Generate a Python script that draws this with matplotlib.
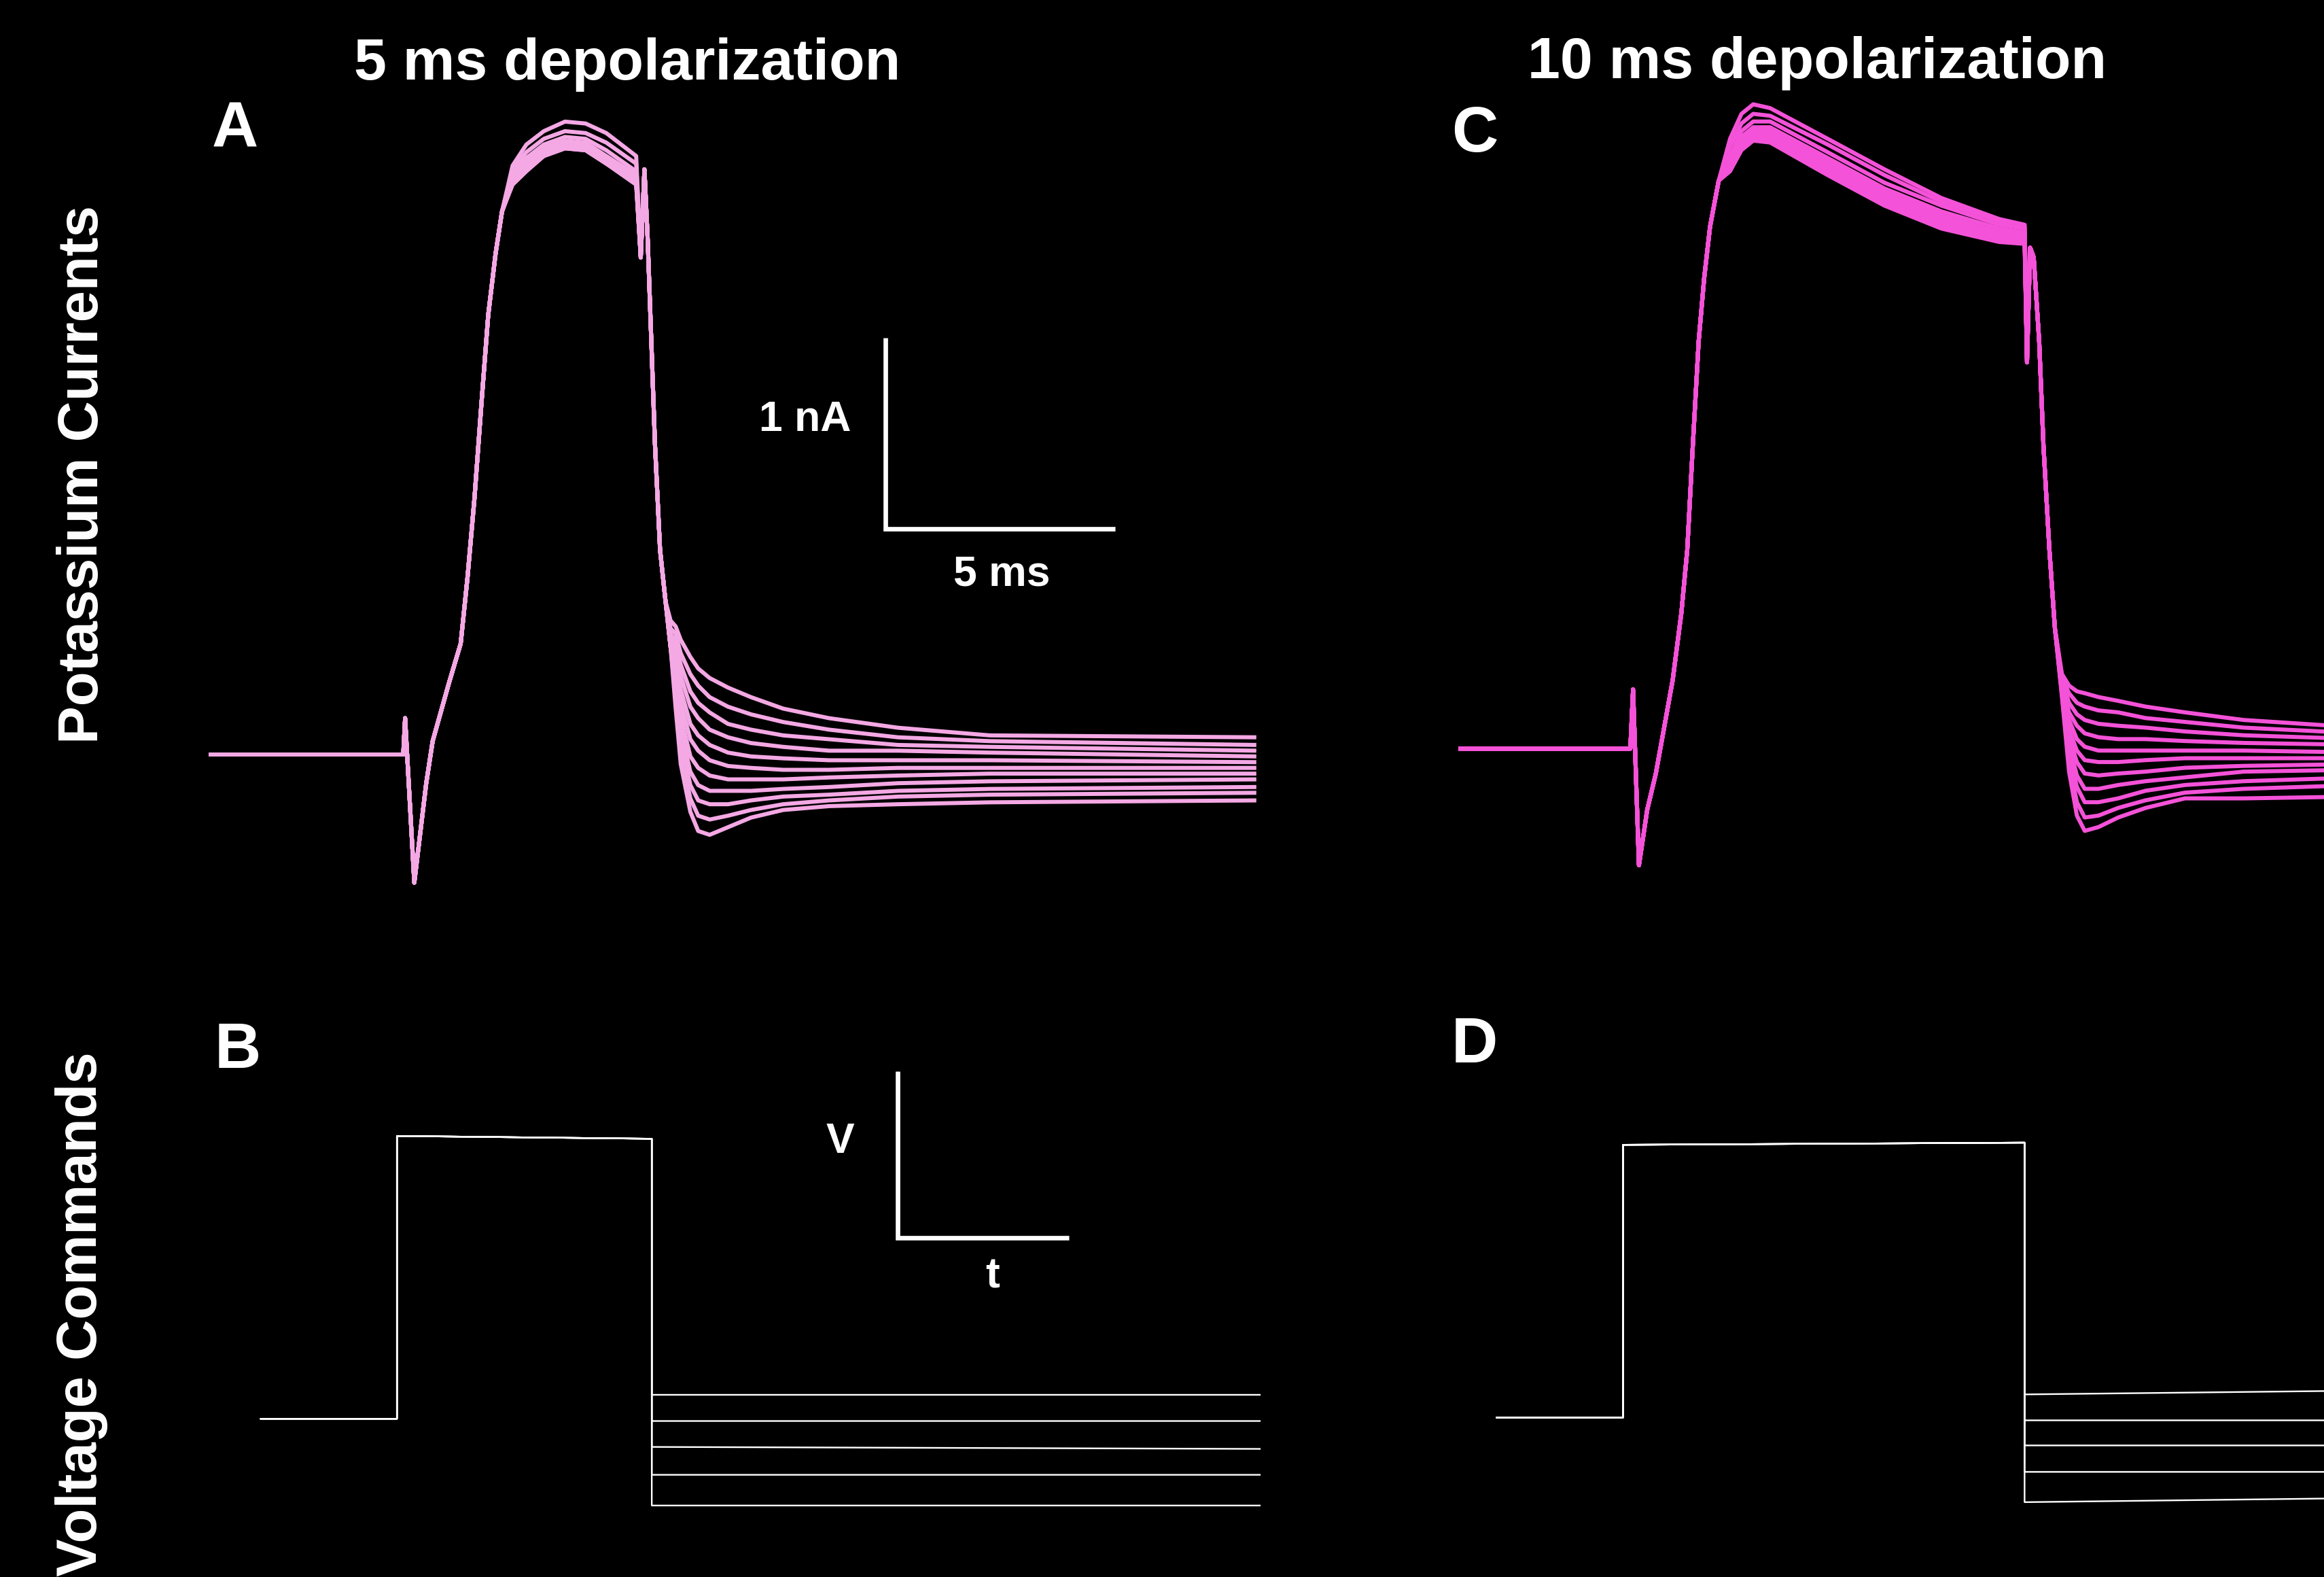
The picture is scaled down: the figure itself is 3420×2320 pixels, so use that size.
import matplotlib
matplotlib.use('Agg')
import matplotlib.pyplot as plt

# ---- panel A: 5 ms step, currents in nA, time in ms ----
A_PRE_T = [0.0, 4.23, 4.27, 4.47, 4.73, 4.87, 5.22, 5.48, 5.63, 5.78, 5.93, 6.08, 6.24, 6.38]
A_PRE_I = [0.0, 0.0, 0.19, -0.67, -0.15, 0.07, 0.37, 0.58, 0.93, 1.34, 1.83, 2.30, 2.62, 2.84]
A_PLAT_T = [6.61, 6.91, 7.29, 7.75, 8.2, 8.65, 9.30]
A_PLAT_I = [
    [3.08, 3.19, 3.26, 3.31, 3.30, 3.25, 3.13],
    [3.06, 3.15, 3.22, 3.26, 3.25, 3.20, 3.09],
    [3.04, 3.12, 3.19, 3.23, 3.22, 3.16, 3.05],
    [3.02, 3.10, 3.17, 3.21, 3.20, 3.13, 3.03],
    [3.01, 3.09, 3.16, 3.20, 3.19, 3.12, 3.02],
    [3.01, 3.08, 3.15, 3.19, 3.18, 3.11, 3.01],
    [3.00, 3.07, 3.15, 3.19, 3.18, 3.11, 3.00],
    [3.00, 3.07, 3.14, 3.18, 3.17, 3.10, 3.00],
    [2.99, 3.06, 3.14, 3.18, 3.17, 3.10, 2.99],
    [2.99, 3.06, 3.13, 3.17, 3.16, 3.09, 2.99],
    [2.98, 3.05, 3.13, 3.17, 3.16, 3.09, 2.98],
]
A_END_T = [9.40, 9.48, 9.55, 9.63, 9.71, 9.82, 9.94]
A_END_I = [2.60, 3.06, 2.70, 2.16, 1.62, 1.07, 0.80]
A_TAIL_T = [10.05, 10.16, 10.27, 10.48, 10.65, 10.9, 11.3, 11.8, 12.5, 13.5, 15.0, 17.0, 22.8]
A_TAIL_I = [
    [0.70, 0.67, 0.60, 0.51, 0.45, 0.40, 0.35, 0.30, 0.24, 0.19, 0.14, 0.10, 0.09],
    [0.66, 0.63, 0.53, 0.42, 0.36, 0.30, 0.25, 0.21, 0.17, 0.13, 0.09, 0.07, 0.05],
    [0.63, 0.59, 0.47, 0.33, 0.27, 0.22, 0.16, 0.13, 0.10, 0.08, 0.05, 0.04, 0.02],
    [0.60, 0.55, 0.41, 0.25, 0.19, 0.13, 0.09, 0.06, 0.04, 0.02, 0.02, 0.01, -0.01],
    [0.56, 0.51, 0.34, 0.16, 0.10, 0.05, 0.01, -0.01, -0.02, -0.03, -0.03, -0.03, -0.04],
    [0.56, 0.47, 0.27, 0.08, 0.02, -0.03, -0.06, -0.07, -0.08, -0.08, -0.07, -0.07, -0.07],
    [0.56, 0.43, 0.20, -0.01, -0.07, -0.11, -0.13, -0.13, -0.13, -0.12, -0.11, -0.10, -0.10],
    [0.56, 0.40, 0.13, -0.09, -0.16, -0.19, -0.19, -0.19, -0.18, -0.17, -0.15, -0.14, -0.13],
    [0.56, 0.35, 0.07, -0.16, -0.24, -0.26, -0.26, -0.24, -0.22, -0.21, -0.19, -0.18, -0.17],
    [0.56, 0.29, 0.01, -0.23, -0.32, -0.34, -0.32, -0.29, -0.26, -0.24, -0.22, -0.21, -0.20],
    [0.56, 0.24, -0.05, -0.30, -0.40, -0.42, -0.38, -0.33, -0.29, -0.27, -0.26, -0.25, -0.24],
]

# ---- panel C: 10 ms step ----
C_PRE_T = [0.0, 4.38, 4.45, 4.60, 4.81, 5.03, 5.25, 5.46, 5.68, 5.83, 5.97, 6.12, 6.26, 6.41, 6.63]
C_PRE_I = [0.0, 0.0, 0.31, -0.61, -0.32, -0.13, 0.12, 0.36, 0.71, 1.04, 1.58, 2.13, 2.46, 2.73, 2.97]
C_PLAT_T = [6.92, 7.21, 7.51, 7.94, 9.40, 10.85, 12.30, 13.77, 14.42]
C_PLAT_I = [
    [3.19, 3.32, 3.37, 3.35, 3.19, 3.03, 2.88, 2.77, 2.74],
    [3.15, 3.27, 3.32, 3.31, 3.16, 3.00, 2.86, 2.76, 2.73],
    [3.10, 3.23, 3.28, 3.28, 3.12, 2.96, 2.84, 2.74, 2.72],
    [3.08, 3.20, 3.25, 3.25, 3.09, 2.93, 2.81, 2.72, 2.70],
    [3.07, 3.19, 3.24, 3.23, 3.07, 2.91, 2.79, 2.70, 2.69],
    [3.06, 3.18, 3.23, 3.22, 3.06, 2.90, 2.78, 2.69, 2.68],
    [3.05, 3.17, 3.22, 3.21, 3.05, 2.89, 2.77, 2.68, 2.67],
    [3.04, 3.16, 3.21, 3.20, 3.03, 2.87, 2.75, 2.67, 2.66],
    [3.03, 3.15, 3.20, 3.19, 3.02, 2.86, 2.74, 2.66, 2.65],
    [3.03, 3.14, 3.19, 3.18, 3.01, 2.85, 2.73, 2.66, 2.65],
    [3.02, 3.13, 3.18, 3.17, 3.00, 2.84, 2.72, 2.65, 2.64],
]
C_END_T = [14.48, 14.56, 14.65, 14.79, 14.90, 15.05, 15.19]
C_END_I = [2.02, 2.62, 2.57, 2.13, 1.58, 1.04, 0.63]
C_TAIL_T = [15.37, 15.55, 15.75, 15.95, 16.3, 16.8, 17.5, 18.5, 20.0, 23.0]
C_TAIL_I = [
    [0.39, 0.33, 0.30, 0.29, 0.27, 0.25, 0.22, 0.19, 0.15, 0.11],
    [0.37, 0.29, 0.24, 0.22, 0.20, 0.19, 0.16, 0.14, 0.11, 0.08],
    [0.36, 0.24, 0.18, 0.15, 0.13, 0.12, 0.11, 0.09, 0.07, 0.05],
    [0.34, 0.19, 0.12, 0.08, 0.06, 0.05, 0.05, 0.04, 0.03, 0.02],
    [0.33, 0.15, 0.05, 0.01, -0.01, -0.01, -0.01, -0.01, -0.01, -0.02],
    [0.33, 0.10, -0.01, -0.06, -0.07, -0.07, -0.06, -0.05, -0.05, -0.05],
    [0.31, 0.06, -0.07, -0.13, -0.14, -0.13, -0.12, -0.10, -0.09, -0.08],
    [0.30, 0.02, -0.14, -0.21, -0.21, -0.19, -0.17, -0.15, -0.12, -0.11],
    [0.29, -0.02, -0.20, -0.28, -0.28, -0.26, -0.22, -0.19, -0.17, -0.15],
    [0.28, -0.07, -0.28, -0.36, -0.35, -0.31, -0.27, -0.23, -0.21, -0.19],
    [0.27, -0.12, -0.35, -0.43, -0.41, -0.36, -0.31, -0.26, -0.26, -0.25],
]

# ---- voltage commands (mV), times in ms: start, step on, step off, end ----
HOLD_MV = -70.0
B_T = [0.0, 2.67, 7.67, 19.6]
B_STEP_MV = [30.4, 29.4]
B_TAIL_MV = [(-61.5, -61.5), (-70.8, -70.8), (-80.0, -80.7), (-89.9, -89.9), (-100.8, -100.8)]
D_T = [0.0, 3.14, 13.14, 21.0]
D_STEP_MV = [30.0, 30.8]
D_TAIL_MV = [(-61.5, -60.2), (-71.0, -71.0), (-80.2, -80.2), (-89.9, -89.9), (-101.0, -99.6)]

TITLES = ['5 ms depolarization', '10 ms depolarization']
ROW_LABELS = ['Potassium Currents', 'Voltage Commands']
LETTERS = ['A', 'B', 'C', 'D']

A_COLOR = '#f4a8e4'
C_COLOR = '#f452d8'

W, H = 3420, 2320
plt.rcParams['font.family'] = ['Liberation Sans', 'DejaVu Sans']
plt.rcParams['font.weight'] = 'bold'
fig = plt.figure(figsize=(W / 100, H / 100), dpi=100, facecolor='black')


def panel_axes(x0, y0, sx, sy, v0=0.0):
    # full-figure transparent axes; (x0, y0) pixel of data origin, sx/sy pixels per unit
    ax = fig.add_axes([0, 0, 1, 1])
    ax.set_xlim(-x0 / sx, (W - x0) / sx)
    ax.set_ylim(v0 + (y0 - H) / sy, v0 + y0 / sy)
    ax.axis('off')
    return ax


def ftext(x, y, s, **kw):
    fig.text(x / W, 1 - y / H, s, color='white', fontweight='bold', **kw)


ax_a = panel_axes(307.5, 1110, 67.6, 281.3)
for k in range(len(A_PLAT_I)):
    t = A_PRE_T + A_PLAT_T + A_END_T + A_TAIL_T
    i = A_PRE_I + A_PLAT_I[k] + A_END_I + A_TAIL_I[k]
    ax_a.plot(t, i, color=A_COLOR, lw=4.3, solid_joinstyle='round', solid_capstyle='butt')
# scale bar 1 nA / 5 ms
ax_a.plot([14.73, 14.73, 19.73], [2.18, 1.18, 1.18], color='white', lw=4.8,
          solid_capstyle='butt', solid_joinstyle='miter')

ax_c = panel_axes(2146, 1101.4, 57.8, 281.3)
for k in range(len(C_PLAT_I)):
    t = C_PRE_T + C_PLAT_T + C_END_T + C_TAIL_T
    i = C_PRE_I + C_PLAT_I[k] + C_END_I + C_TAIL_I[k]
    ax_c.plot(t, i, color=C_COLOR, lw=4.3, solid_joinstyle='round', solid_capstyle='butt')

ax_b = panel_axes(383.9, 2087.2, 75.0, 4.144, v0=HOLD_MV)
for v1, v2 in B_TAIL_MV:
    t = [B_T[0], B_T[1], B_T[1], B_T[2], B_T[2], B_T[3]]
    v = [HOLD_MV, HOLD_MV, B_STEP_MV[0], B_STEP_MV[1], v1, v2]
    ax_b.plot(t, v, color='white', lw=1.7)

ax_d = panel_axes(2202.8, 2085.5, 59.1, 4.013, v0=HOLD_MV)
for v1, v2 in D_TAIL_MV:
    t = [D_T[0], D_T[1], D_T[1], D_T[2], D_T[2], D_T[3]]
    v = [HOLD_MV, HOLD_MV, D_STEP_MV[0], D_STEP_MV[1], v1, v2]
    ax_d.plot(t, v, color='white', lw=1.7)

# V / t scale bar (pixel overlay)
ov = fig.add_axes([0, 0, 1, 1])
ov.set_xlim(0, W)
ov.set_ylim(H, 0)
ov.axis('off')
ov.plot([1321, 1321, 1573], [1576, 1821, 1821], color='white', lw=4.8,
        solid_capstyle='butt', solid_joinstyle='miter')

ftext(923, 117, TITLES[0], fontsize=62, ha='center', va='baseline')
ftext(2674, 115, TITLES[1], fontsize=62, ha='center', va='baseline')
ftext(312, 216, LETTERS[0], fontsize=68, ha='left', va='baseline')
ftext(316, 1571, LETTERS[1], fontsize=68, ha='left', va='baseline')
ftext(2136, 223, LETTERS[2], fontsize=68, ha='left', va='baseline')
ftext(2136, 1563, LETTERS[3], fontsize=68, ha='left', va='baseline')
ftext(122, 698, ROW_LABELS[0], fontsize=60, ha='center', va='center', rotation=90)
ftext(120, 1933, ROW_LABELS[1], fontsize=60, ha='center', va='center', rotation=90)
ftext(1185, 617, '1 nA', fontsize=45, ha='center', va='center')
ftext(1474, 845, '5 ms', fontsize=45, ha='center', va='center')
ftext(1236, 1679, 'V', fontsize=45, ha='center', va='center')
ftext(1461, 1878, 't', fontsize=45, ha='center', va='center')

fig.savefig('out.png', dpi=100, facecolor='black')
